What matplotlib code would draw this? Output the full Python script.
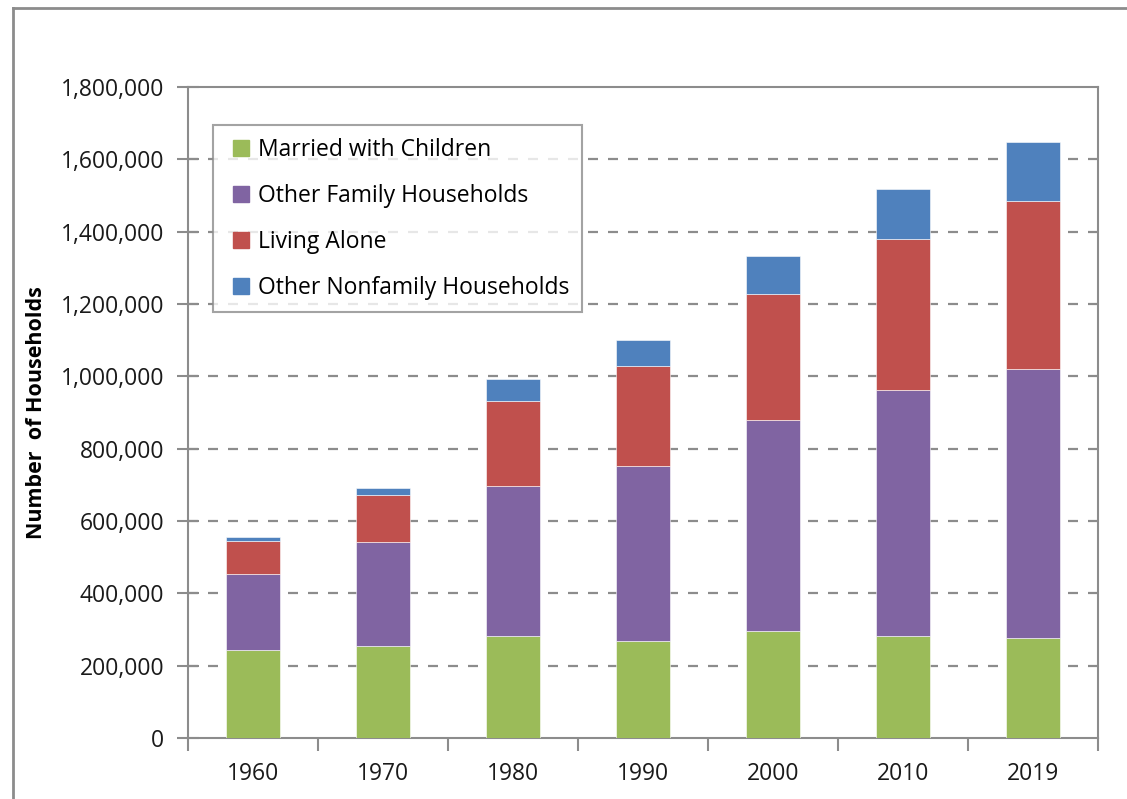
import matplotlib.pyplot as plt
from matplotlib.lines import Line2D
from matplotlib.ticker import FuncFormatter, FixedLocator
import numpy as np

years = ["1960", "1970", "1980", "1990", "2000", "2010", "2019"]
married_children = [243000, 254000, 282000, 268000, 296000, 282000, 277000]
other_family = [211000, 288000, 415000, 484000, 584000, 681000, 744000]
living_alone = [91000, 130000, 235000, 277000, 348000, 417000, 464000]
other_nonfamily = [11000, 20000, 61000, 72000, 105000, 139000, 164000]

series = [
    ("Married with Children", married_children, "#9BBB59"),
    ("Other Family Households", other_family, "#8064A2"),
    ("Living Alone", living_alone, "#C0504D"),
    ("Other Nonfamily Households", other_nonfamily, "#4F81BD"),
]

plt.rcParams['font.family'] = ['Open Sans', 'DejaVu Sans']
fig = plt.figure(figsize=(11.27, 7.99), dpi=100)
W, H = 1127, 799
ax = fig.add_axes([188 / W, 1 - 738 / H, (1098 - 188) / W, (738 - 87) / H])

x = np.arange(len(years))
bottom = np.zeros(len(years))
for name, vals, col in series:
    ax.bar(x, vals, 0.41, bottom=bottom, color=col, label=name,
           edgecolor="white", linewidth=0.4, zorder=3)
    bottom += np.array(vals)

ax.set_xlim(-0.5, len(years) - 0.5)
ax.set_ylim(0, 1800000)
ax.set_yticks(np.arange(0, 1800001, 200000))
ax.yaxis.set_major_formatter(FuncFormatter(lambda v, p: f"{int(v):,}"))
ax.tick_params(axis="y", direction="inout", length=16, width=1.5,
               color="#8c8c8c", labelsize=16.5, pad=9, labelcolor="#1a1a1a")
ax.set_xticks(x)
ax.set_xticklabels(years)
ax.tick_params(axis="x", length=0, labelsize=16.5, pad=17, labelcolor="#1a1a1a")
ax.xaxis.set_minor_locator(FixedLocator(np.arange(-0.5, len(years), 1)))
ax.tick_params(axis="x", which="minor", direction="out", length=9,
               width=1.5, color="#8c8c8c")

for v in np.arange(200000, 1800000, 200000):
    ax.axhline(v, color="#8c8c8c", linestyle=(0, (4.5, 4.5)), linewidth=1.6, zorder=1)

for s in ax.spines.values():
    s.set_color("#8c8c8c")
    s.set_linewidth(1.5)

ax.set_ylabel("Number  of Households", fontsize=15.5, fontweight="bold", labelpad=10)

handles = [Line2D([], [], linestyle="none", marker="s", markersize=11,
                  markerfacecolor=c, markeredgecolor=c) for _, _, c in series]
leg = ax.legend(handles, [n for n, _, _ in series], loc="upper left",
                bbox_to_anchor=(25 / 910, 1 - 38 / 651), fontsize=16.5,
                frameon=True, fancybox=False, handlelength=1.3,
                handletextpad=0.1, labelspacing=0.96, borderpad=0.55,
                borderaxespad=0)
leg.get_frame().set_edgecolor("#8c8c8c")
leg.get_frame().set_linewidth(1.5)

# outer chart border
fig.add_artist(Line2D([13 / W, 13 / W], [0, 1 - 8 / H], color="#8c8c8c", linewidth=2))
fig.add_artist(Line2D([13 / W, 1], [1 - 8 / H, 1 - 8 / H], color="#8c8c8c", linewidth=2))

fig.savefig("out.png", dpi=100)
